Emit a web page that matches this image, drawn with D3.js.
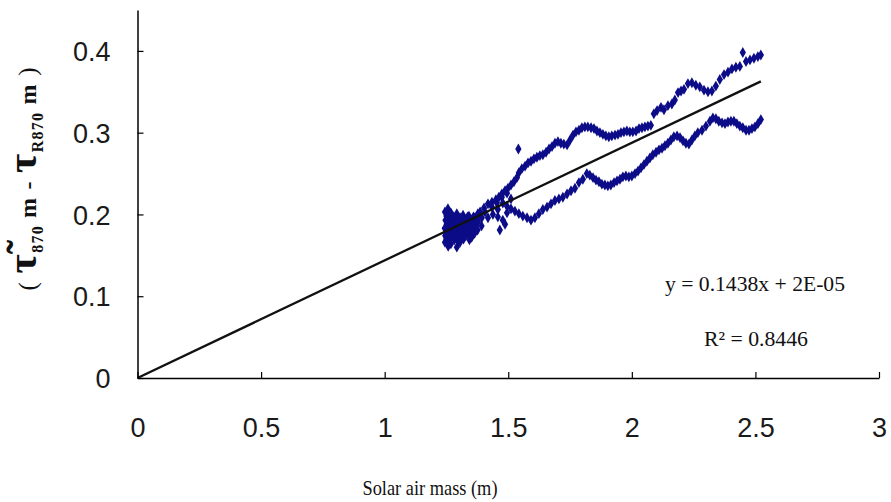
<!DOCTYPE html>
<html>
<head>
<meta charset="utf-8">
<script src="https://cdn.jsdelivr.net/npm/d3@7"></script>
<style>
  html, body { margin: 0; padding: 0; background: #fff; }
  svg { display: block; }
</style>
</head>
<body>
<svg id="chart" width="891" height="502"></svg>
<script>
// Axis ticks
const xTicks = [0, 0.5, 1, 1.5, 2, 2.5, 3];
const yTicks = [0, 0.1, 0.2, 0.3, 0.4];

// Fitted line y = slope * x + intercept
const slope = 0.1438;
const intercept = 0.00002;
const rSquared = 0.8446;
const fitRange = [0, 2.522];

// Dense group of observations at low air mass
const clusterPoints = [
  [1.244, 0.203], [1.246, 0.193], [1.243, 0.183], [1.245, 0.174], [1.244, 0.166],
  [1.250, 0.198], [1.251, 0.188], [1.249, 0.178], [1.250, 0.170],
  [1.256, 0.207], [1.257, 0.198], [1.255, 0.188], [1.258, 0.179], [1.256, 0.169], [1.257, 0.161],
  [1.262, 0.195], [1.263, 0.185], [1.261, 0.175], [1.262, 0.166],
  [1.268, 0.202], [1.269, 0.192], [1.267, 0.182], [1.270, 0.172], [1.268, 0.164],
  [1.274, 0.196], [1.275, 0.186], [1.273, 0.176],
  [1.280, 0.197], [1.281, 0.187], [1.279, 0.177], [1.282, 0.169],
  [1.286, 0.192], [1.287, 0.182], [1.285, 0.172],
  [1.292, 0.201], [1.293, 0.191], [1.291, 0.181], [1.294, 0.171], [1.292, 0.160],
  [1.298, 0.196], [1.299, 0.186], [1.297, 0.176], [1.299, 0.166],
  [1.305, 0.196], [1.304, 0.186], [1.306, 0.176], [1.305, 0.166],
  [1.311, 0.191], [1.312, 0.181], [1.310, 0.171],
  [1.317, 0.199], [1.318, 0.190], [1.316, 0.180], [1.319, 0.170],
  [1.323, 0.195], [1.324, 0.185], [1.322, 0.176],
  [1.329, 0.193], [1.330, 0.183], [1.328, 0.174],
  [1.335, 0.197], [1.336, 0.187], [1.334, 0.178],
  [1.341, 0.198], [1.342, 0.188], [1.340, 0.179], [1.343, 0.169],
  [1.347, 0.194], [1.348, 0.184], [1.346, 0.175],
  [1.353, 0.191], [1.354, 0.181], [1.352, 0.172],
  [1.359, 0.197], [1.360, 0.187], [1.358, 0.178],
  [1.365, 0.196], [1.366, 0.186], [1.364, 0.177],
  [1.371, 0.192], [1.372, 0.182],
  [1.377, 0.201], [1.378, 0.191], [1.376, 0.181],
  [1.393, 0.196], [1.392, 0.186],
  [1.386, 0.199], [1.406, 0.203], [1.418, 0.196], [1.434, 0.209], [1.438, 0.200],
  [1.454, 0.214], [1.458, 0.206], [1.458, 0.197], [1.474, 0.221], [1.478, 0.193],
  [1.466, 0.181], [1.495, 0.226], [1.495, 0.202], [1.487, 0.188], [1.511, 0.219],
  [1.541, 0.280]
];

// Upper branch
const upperPoints = [
  [1.386, 0.203], [1.402, 0.208], [1.418, 0.213], [1.434, 0.215], [1.450, 0.218],
  [1.462, 0.221], [1.474, 0.225], [1.487, 0.229], [1.499, 0.232], [1.511, 0.236],
  [1.523, 0.240], [1.535, 0.245], [1.543, 0.251], [1.555, 0.256], [1.568, 0.259],
  [1.580, 0.263], [1.592, 0.265], [1.604, 0.268], [1.616, 0.270], [1.628, 0.272],
  [1.640, 0.273], [1.653, 0.276], [1.665, 0.280], [1.677, 0.283], [1.689, 0.287],
  [1.701, 0.289], [1.713, 0.287], [1.725, 0.286], [1.738, 0.285], [1.750, 0.291],
  [1.762, 0.297], [1.774, 0.301], [1.786, 0.303], [1.798, 0.306], [1.810, 0.307],
  [1.822, 0.307], [1.835, 0.306], [1.847, 0.305], [1.859, 0.302], [1.871, 0.300],
  [1.883, 0.298], [1.895, 0.296], [1.907, 0.295], [1.919, 0.296], [1.932, 0.297],
  [1.944, 0.298], [1.956, 0.300], [1.968, 0.301], [1.980, 0.302], [1.992, 0.301],
  [2.004, 0.301], [2.017, 0.302], [2.029, 0.305], [2.041, 0.306], [2.053, 0.307],
  [2.065, 0.308], [2.077, 0.309], [2.089, 0.323], [2.102, 0.327], [2.118, 0.331],
  [2.130, 0.328], [2.146, 0.333], [2.162, 0.335], [2.174, 0.340], [2.187, 0.349],
  [2.199, 0.351], [2.211, 0.353], [2.227, 0.360], [2.243, 0.361], [2.259, 0.358],
  [2.275, 0.356], [2.292, 0.352], [2.308, 0.350], [2.324, 0.351], [2.340, 0.357],
  [2.356, 0.365], [2.373, 0.371], [2.389, 0.374], [2.405, 0.378], [2.421, 0.380],
  [2.437, 0.381], [2.449, 0.398], [2.462, 0.387], [2.478, 0.389], [2.494, 0.391],
  [2.510, 0.393], [2.522, 0.395]
];

// Lower branch
const lowerPoints = [
  [1.478, 0.214], [1.495, 0.210], [1.511, 0.207], [1.527, 0.204], [1.543, 0.201],
  [1.559, 0.198], [1.576, 0.196], [1.592, 0.193], [1.608, 0.196], [1.624, 0.201],
  [1.640, 0.206], [1.657, 0.209], [1.673, 0.213], [1.689, 0.217], [1.705, 0.219],
  [1.721, 0.221], [1.738, 0.225], [1.754, 0.229], [1.770, 0.232], [1.786, 0.239],
  [1.802, 0.243], [1.818, 0.250], [1.830, 0.248], [1.843, 0.245], [1.855, 0.242],
  [1.867, 0.240], [1.879, 0.237], [1.891, 0.236], [1.903, 0.235], [1.915, 0.236],
  [1.928, 0.239], [1.940, 0.241], [1.952, 0.243], [1.964, 0.246], [1.976, 0.247],
  [1.988, 0.246], [2.000, 0.247], [2.013, 0.250], [2.025, 0.253], [2.037, 0.257],
  [2.049, 0.261], [2.061, 0.265], [2.073, 0.269], [2.085, 0.273], [2.098, 0.276],
  [2.110, 0.279], [2.122, 0.281], [2.134, 0.284], [2.146, 0.287], [2.158, 0.291],
  [2.170, 0.295], [2.183, 0.296], [2.195, 0.294], [2.207, 0.290], [2.219, 0.287],
  [2.231, 0.286], [2.243, 0.291], [2.255, 0.296], [2.267, 0.300], [2.284, 0.303],
  [2.300, 0.308], [2.316, 0.314], [2.328, 0.318], [2.340, 0.317], [2.352, 0.314],
  [2.365, 0.312], [2.377, 0.311], [2.389, 0.313], [2.401, 0.314], [2.413, 0.314],
  [2.425, 0.311], [2.437, 0.308], [2.449, 0.306], [2.462, 0.303], [2.474, 0.303],
  [2.486, 0.305], [2.498, 0.307], [2.510, 0.311], [2.522, 0.316]
];

const svg = d3.select("#chart");
const plot = { left: 137.5, right: 879, top: 10, bottom: 378 };

const x = d3.scaleLinear().domain([0, 3]).range([plot.left, plot.right]);
const y = d3.scaleLinear().domain([0, 0.45]).range([plot.bottom, plot.top]);

const markerColor = "#0c0c88";

// Observations
const diamond = d3.symbol().type(d3.symbolDiamond).size(34);
const allPoints = clusterPoints.concat(upperPoints, lowerPoints);
svg.append("g")
  .selectAll("path")
  .data(allPoints)
  .join("path")
  .attr("d", diamond)
  .attr("transform", d => `translate(${x(d[0])},${y(d[1])})`)
  .attr("fill", markerColor);

// Linear fit
svg.append("line")
  .attr("x1", x(fitRange[0]))
  .attr("y1", y(slope * fitRange[0] + intercept))
  .attr("x2", x(fitRange[1]))
  .attr("y2", y(slope * fitRange[1] + intercept))
  .attr("stroke", "#111")
  .attr("stroke-width", 2.3);

// Axes
const xAxis = d3.axisBottom(x).tickValues(xTicks).tickSizeInner(-6).tickSizeOuter(0)
  .tickFormat(d3.format("~g"));
const yAxis = d3.axisLeft(y).tickValues(yTicks).tickSizeInner(-6).tickSizeOuter(0)
  .tickFormat(d3.format("~g"));

const gx = svg.append("g").attr("transform", `translate(0,${plot.bottom})`).call(xAxis);
const gy = svg.append("g").attr("transform", `translate(${plot.left},0)`).call(yAxis);

[gx, gy].forEach(g => {
  g.select(".domain").attr("stroke", "#000").attr("stroke-width", 1.5);
  g.selectAll(".tick line").attr("stroke", "#000").attr("stroke-width", 1.2);
  g.selectAll(".tick text")
    .attr("font-family", "'Liberation Sans', Arial, sans-serif")
    .attr("font-size", 27)
    .attr("fill", "#1a1a1a");
});
gx.selectAll(".tick text").attr("y", 0).attr("dy", 0)
  .attr("transform", "translate(0,59)");
gy.selectAll(".tick text").attr("x", -27).attr("dy", "0.36em");

// Axis titles
svg.append("text")
  .attr("x", 430)
  .attr("y", 495)
  .attr("text-anchor", "middle")
  .attr("font-family", "'Liberation Serif', 'Times New Roman', serif")
  .attr("font-size", 21)
  .attr("textLength", 135)
  .attr("lengthAdjust", "spacingAndGlyphs")
  .attr("fill", "#111")
  .text("Solar air mass (m)");

const yTitle = svg.append("text")
  .attr("transform", "translate(36,179) rotate(-90)")
  .attr("text-anchor", "middle")
  .attr("font-family", "'Liberation Serif', 'Times New Roman', serif")
  .attr("font-weight", "bold")
  .attr("fill", "#111")
  .attr("textLength", 223)
  .attr("lengthAdjust", "spacing");
yTitle.append("tspan").attr("font-size", 25).attr("font-weight", "normal").text("(  ");
yTitle.append("tspan").attr("font-size", 42).text("\u03C4\u0303");
yTitle.append("tspan").attr("font-size", 16).attr("dy", 7).text("870");
yTitle.append("tspan").attr("font-size", 24).attr("dy", -7).text(" m - ");
yTitle.append("tspan").attr("font-size", 42).text("\u03C4");
yTitle.append("tspan").attr("font-size", 16).attr("dy", 7).text("R870");
yTitle.append("tspan").attr("font-size", 24).attr("dy", -7).text(" m");
yTitle.append("tspan").attr("font-size", 25).attr("font-weight", "normal").text("  )");

// Regression annotation
const eqFont = "'Liberation Serif', 'Times New Roman', serif";
svg.append("text")
  .attr("x", 665).attr("y", 291)
  .attr("font-family", eqFont).attr("font-size", 21).attr("fill", "#111")
  .attr("textLength", 180).attr("lengthAdjust", "spacingAndGlyphs")
  .text(`y = ${slope}x + 2E-05`);
svg.append("text")
  .attr("x", 704).attr("y", 346)
  .attr("font-family", eqFont).attr("font-size", 21).attr("fill", "#111")
  .attr("textLength", 104).attr("lengthAdjust", "spacingAndGlyphs")
  .text(`R\u00B2 = ${rSquared}`);
</script>
</body>
</html>
